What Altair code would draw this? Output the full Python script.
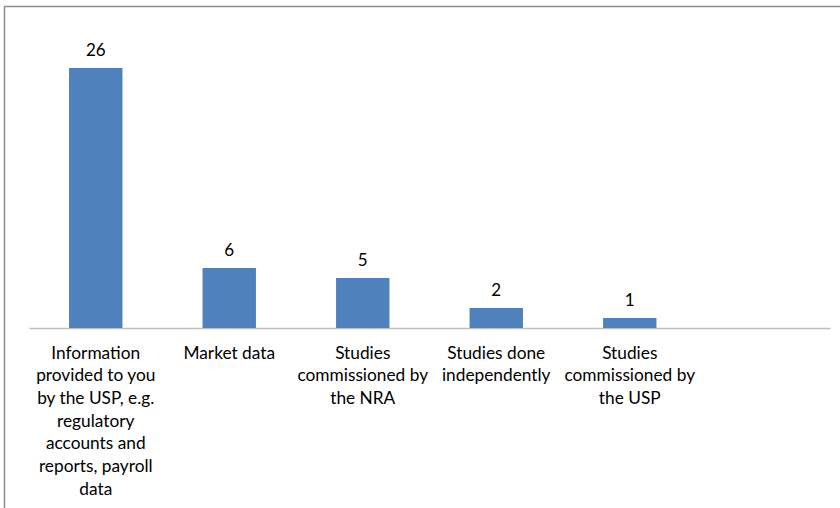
import altair as alt
import pandas as pd

categories = [
    "Information provided to you by the USP, e.g. regulatory accounts and reports, payroll data",
    "Market data",
    "Studies commissioned by the NRA",
    "Studies done independently",
    "Studies commissioned by the USP",
]
values = [26, 6, 5, 2, 1]
wrapped_labels = [
    "Information|provided to you|by the USP, e.g.|regulatory|accounts and|reports, payroll|data",
    "Market data",
    "Studies|commissioned by|the NRA",
    "Studies done|independently",
    "Studies|commissioned by|the USP",
]
empty_slot = " "

df = pd.DataFrame({"category": categories, "value": values, "label": wrapped_labels})
domain = categories + [empty_slot]

label_map = "{" + ", ".join(
    f'{c!r}: {l!r}' for c, l in zip(categories, wrapped_labels)
) + "}"
label_expr = f"split(({label_map})[datum.label] || '', '|')"

FONT = "Lato"
W, H = 801, 300

x_enc = alt.X(
    "category:N",
    sort=domain,
    scale=alt.Scale(domain=domain, paddingInner=0.6, paddingOuter=0.3),
    axis=alt.Axis(
        title=None, labelAngle=0, ticks=False, domainColor="#bfbfbf", domainWidth=1.5,
        labelFont=FONT, labelFontSize=17.3, labelColor="#000000", labelLineHeight=22.7,
        labelPadding=16, labelLimit=300, labelExpr=label_expr, labelBaseline="top",
    ),
)
y_enc = alt.Y("value:Q", scale=alt.Scale(domain=[0, 30]), axis=None)

bars = alt.Chart(df).mark_bar(color="#4f81bd").encode(x=x_enc, y=y_enc)
texts = alt.Chart(df).mark_text(
    dy=-12, baseline="alphabetic", font=FONT, fontSize=17, color="#000000"
).encode(x=alt.X("category:N", sort=domain), y="value:Q", text="value:Q")

frame = alt.Chart(alt.Data(values=[{"f": 1}])).mark_rect(
    fill=None, stroke="#8c8c8c", strokeWidth=1.5
).encode(
    x=alt.value(-24.5), x2=alt.value(W + 60), y=alt.value(-21.5), y2=alt.value(H + 260)
)

chart = alt.layer(frame, bars, texts).properties(
    width=W, height=H,
    background="white",
    autosize=alt.AutoSizeParams(type="none"),
    padding={"left": 29, "top": 28, "right": 10, "bottom": 180},
).configure_view(strokeWidth=0, stroke="transparent")

chart.save("out.html", embed_options={"renderer": "svg", "actions": False})
